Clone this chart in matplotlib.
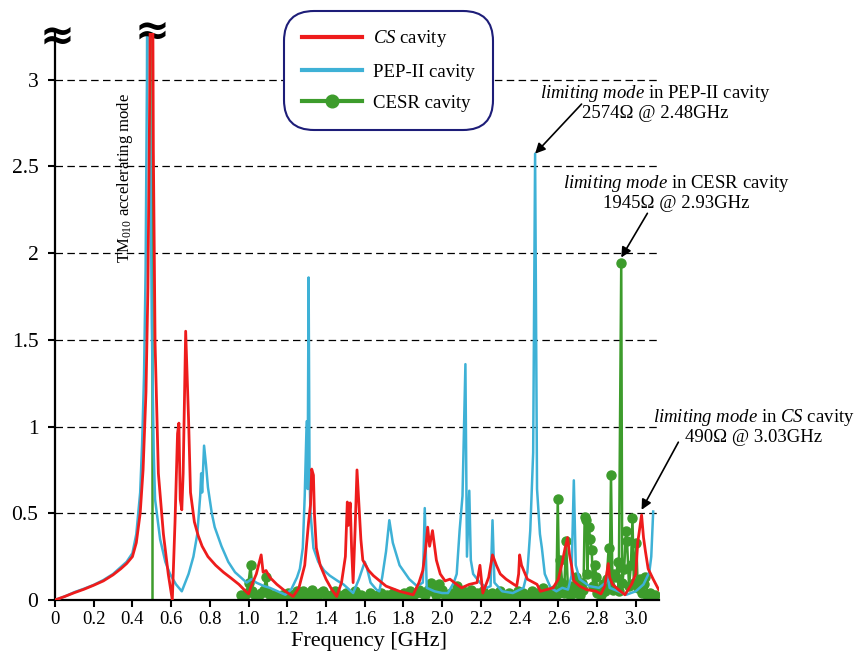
import matplotlib
matplotlib.use('Agg')
import matplotlib.pyplot as plt
import matplotlib.transforms as mtransforms

plt.rcParams['font.family'] = ['Liberation Serif', 'DejaVu Serif']
plt.rcParams['mathtext.fontset'] = 'custom'
plt.rcParams['mathtext.rm'] = 'Liberation Serif'
plt.rcParams['mathtext.it'] = 'Liberation Serif:italic'

# impedance spectra, kOhm vs GHz (main peak is clipped)
cs_freq = [0.0, 0.05, 0.1, 0.15, 0.2, 0.25, 0.3, 0.34, 0.37, 0.4, 0.42, 0.44, 0.455, 0.47,
           0.48, 0.49, 0.50, 0.508, 0.517, 0.534, 0.56, 0.585, 0.606, 0.62, 0.633, 0.64,
           0.647, 0.655, 0.662, 0.675, 0.69, 0.70, 0.72, 0.74, 0.76, 0.79, 0.83, 0.87,
           0.905, 0.95, 0.985, 1.0, 1.01, 1.04, 1.065, 1.075, 1.09, 1.11, 1.146, 1.19,
           1.23, 1.26, 1.29, 1.31, 1.32, 1.326, 1.335, 1.34, 1.35, 1.37, 1.40, 1.43,
           1.455, 1.48, 1.50, 1.51, 1.515, 1.525, 1.532, 1.54, 1.55, 1.56, 1.57, 1.58,
           1.59, 1.62, 1.645, 1.71, 1.78, 1.85, 1.88, 1.90, 1.915, 1.925, 1.935, 1.95,
           1.97, 1.99, 2.015, 2.04, 2.075, 2.10, 2.14, 2.18, 2.195, 2.21, 2.24, 2.26,
           2.28, 2.30, 2.33, 2.37, 2.385, 2.395, 2.40, 2.41, 2.44, 2.49, 2.507, 2.54,
           2.573, 2.60, 2.617, 2.635, 2.648, 2.658, 2.668, 2.68, 2.71, 2.745, 2.795,
           2.82, 2.84, 2.85, 2.858, 2.865, 2.88, 2.91, 2.944, 2.978, 3.0, 3.01, 3.03,
           3.04, 3.05, 3.064, 3.09, 3.118]
cs_z = [0.0, 0.02, 0.042, 0.062, 0.085, 0.11, 0.145, 0.18, 0.21, 0.25, 0.33, 0.5, 0.75, 1.2,
        1.8, 3.0, 5.0, 2.6, 1.48, 0.73, 0.38, 0.15, 0.0, 0.45, 0.96, 1.02,
        0.58, 0.52, 0.73, 1.55, 1.04, 0.62, 0.45, 0.37, 0.31, 0.25, 0.2, 0.16,
        0.13, 0.09, 0.05, 0.035, 0.07, 0.15, 0.26, 0.16, 0.17, 0.13, 0.09, 0.05,
        0.02, 0.07, 0.2, 0.45, 0.55, 0.755, 0.72, 0.5, 0.3, 0.2, 0.12, 0.06,
        0.02, 0.1, 0.25, 0.565, 0.43, 0.56, 0.3, 0.1, 0.4, 0.75, 0.55, 0.35,
        0.23, 0.17, 0.14, 0.08, 0.05, 0.03, 0.1, 0.17, 0.3, 0.42, 0.31, 0.4,
        0.23, 0.15, 0.11, 0.12, 0.09, 0.07, 0.09, 0.1, 0.2, 0.04, 0.13, 0.26,
        0.2, 0.15, 0.12, 0.09, 0.08, 0.15, 0.26, 0.2, 0.12, 0.09, 0.05, 0.06,
        0.07, 0.12, 0.2, 0.3, 0.36, 0.26, 0.2, 0.11, 0.08, 0.06, 0.05,
        0.035, 0.08, 0.15, 0.21, 0.13, 0.09, 0.06, 0.03, 0.09, 0.15, 0.33, 0.49,
        0.36, 0.28, 0.18, 0.12, 0.06]

pep_freq = [0.0, 0.05, 0.1, 0.15, 0.2, 0.25, 0.3, 0.34, 0.37, 0.4, 0.42, 0.44, 0.45, 0.46,
            0.468, 0.475, 0.48, 0.49, 0.50, 0.51, 0.517, 0.543, 0.57, 0.594, 0.625, 0.655,
            0.69, 0.715, 0.735, 0.75, 0.755, 0.76, 0.77, 0.78, 0.79, 0.81, 0.825, 0.86,
            0.895, 0.93, 0.96, 0.99, 1.015, 1.04, 1.08, 1.11, 1.15, 1.19, 1.22, 1.25,
            1.265, 1.28, 1.29, 1.30, 1.305, 1.31, 1.315, 1.32, 1.335, 1.36, 1.39, 1.42,
            1.46, 1.49, 1.52, 1.54, 1.57, 1.60, 1.61, 1.63, 1.66, 1.675, 1.69, 1.71,
            1.727, 1.745, 1.78, 1.83, 1.87, 1.90, 1.91, 1.92, 1.96, 2.0, 2.03, 2.06,
            2.075, 2.09, 2.105, 2.12, 2.128, 2.14, 2.148, 2.16, 2.195, 2.23, 2.25, 2.26,
            2.27, 2.31, 2.365, 2.42, 2.44, 2.455, 2.47, 2.48, 2.49, 2.505, 2.515, 2.53,
            2.56, 2.59, 2.62, 2.65, 2.668, 2.68, 2.69, 2.71, 2.76, 2.81, 2.845, 2.853,
            2.865, 2.91, 2.95, 3.0, 3.04, 3.07, 3.08, 3.09]
pep_z = [0.0, 0.02, 0.045, 0.065, 0.087, 0.115, 0.15, 0.19, 0.22, 0.27, 0.38, 0.62, 0.9, 1.3,
         1.9, 3.0, 5.0, 3.0, 1.6, 0.85, 0.58, 0.35, 0.22, 0.15, 0.09, 0.05,
         0.15, 0.25, 0.38, 0.6, 0.73, 0.62, 0.89, 0.78, 0.65, 0.5, 0.42, 0.31,
         0.22, 0.16, 0.13, 0.1, 0.12, 0.1, 0.08, 0.07, 0.05, 0.03, 0.06, 0.13,
         0.18, 0.3, 0.6, 1.03, 0.64, 1.86, 0.7, 0.5, 0.3, 0.22, 0.17, 0.14,
         0.11, 0.09, 0.06, 0.04, 0.12, 0.22, 0.19, 0.1, 0.06, 0.05, 0.13, 0.28,
         0.46, 0.33, 0.2, 0.12, 0.08, 0.1, 0.53, 0.07, 0.05, 0.04, 0.04, 0.1,
         0.15, 0.4, 0.6, 1.36, 0.25, 0.63, 0.23, 0.15, 0.1, 0.07, 0.08, 0.46,
         0.1, 0.05, 0.04, 0.07, 0.16, 0.4, 0.85, 2.574, 0.64, 0.38, 0.3, 0.15,
         0.07, 0.05, 0.07, 0.06, 0.14, 0.69, 0.2, 0.12, 0.08, 0.07, 0.1, 0.15,
         0.07, 0.05, 0.03, 0.05, 0.09, 0.16, 0.25, 0.51]

cesr_freq = [0.96, 0.975, 0.99, 1.00, 1.01, 1.02, 1.035, 1.05, 1.065, 1.08, 1.09, 1.10,
             1.115, 1.13, 1.145, 1.16, 1.175, 1.19, 1.205, 1.22, 1.235, 1.25,
             1.265, 1.28, 1.295, 1.31, 1.325, 1.34, 1.355, 1.37, 1.385, 1.40, 1.415, 1.43,
             1.445, 1.46, 1.475, 1.49, 1.505, 1.52, 1.535, 1.55, 1.565, 1.58, 1.595, 1.61,
             1.625, 1.64, 1.655, 1.67, 1.685, 1.70, 1.715, 1.73, 1.745, 1.76, 1.775, 1.79,
             1.805, 1.82, 1.835, 1.85, 1.865, 1.88,
             1.895, 1.91, 1.925, 1.94, 1.955, 1.97, 1.985, 2.00, 2.015, 2.03, 2.045, 2.06,
             2.075, 2.09, 2.105, 2.12, 2.135, 2.15, 2.165, 2.18, 2.195, 2.21, 2.225, 2.24,
             2.255, 2.27, 2.285, 2.30, 2.315, 2.33, 2.345, 2.36, 2.375, 2.39, 2.405, 2.42,
             2.435, 2.45, 2.465, 2.48, 2.495,
             2.51, 2.52, 2.535, 2.55, 2.565, 2.58, 2.59, 2.597, 2.605, 2.61, 2.62, 2.63,
             2.64, 2.65, 2.66, 2.67, 2.68, 2.69, 2.70, 2.71, 2.72, 2.73, 2.736, 2.745,
             2.75, 2.757, 2.765, 2.772, 2.78, 2.79, 2.795, 2.80, 2.81, 2.82, 2.83, 2.84,
             2.85, 2.86, 2.865, 2.872, 2.88, 2.89, 2.90, 2.906, 2.912, 2.925, 2.93, 2.94,
             2.95, 2.955, 2.965, 2.975, 2.983, 2.99, 3.003, 3.01, 3.02, 3.03, 3.04, 3.05,
             3.06, 3.075, 3.09, 3.10]
cesr_z = [0.03, 0.02, 0.04, 0.10, 0.20, 0.05, 0.03, 0.02, 0.04, 0.06, 0.13, 0.04,
          0.02, 0.03, 0.02, 0.01, 0.03, 0.02, 0.04, 0.03, 0.02, 0.05,
          0.03, 0.05, 0.02, 0.04, 0.06, 0.03, 0.02, 0.04, 0.05, 0.03, 0.02, 0.03,
          0.05, 0.02, 0.01, 0.03, 0.04, 0.02, 0.03, 0.05, 0.02, 0.03, 0.01, 0.02,
          0.04, 0.03, 0.02, 0.03, 0.04, 0.02, 0.03, 0.02, 0.04, 0.03, 0.02, 0.03,
          0.04, 0.02, 0.05, 0.03, 0.04, 0.06,
          0.04, 0.03, 0.06, 0.10, 0.05, 0.03, 0.09, 0.06, 0.03, 0.02, 0.04, 0.03,
          0.08, 0.03, 0.05, 0.02, 0.03, 0.06, 0.02, 0.04, 0.03, 0.05, 0.02, 0.03,
          0.04, 0.02, 0.03, 0.05, 0.03, 0.02, 0.04, 0.03, 0.02, 0.05, 0.03, 0.04,
          0.02, 0.03, 0.05, 0.03, 0.04,
          0.03, 0.07, 0.02, 0.04, 0.03, 0.06, 0.03, 0.58, 0.04, 0.23, 0.10, 0.04,
          0.34, 0.05, 0.03, 0.08, 0.04, 0.13, 0.05, 0.03, 0.10, 0.06, 0.48, 0.46,
          0.15, 0.42, 0.35, 0.29, 0.08, 0.20, 0.13, 0.04, 0.06, 0.03, 0.09, 0.05,
          0.12, 0.30, 0.08, 0.72, 0.06, 0.15, 0.13, 0.22, 0.05, 1.945, 0.10, 0.18,
          0.40, 0.34, 0.08, 0.20, 0.47, 0.10, 0.33, 0.07, 0.12, 0.04, 0.09, 0.13,
          0.03, 0.04, 0.02, 0.03]

accel_freq = 0.5   # TM010 accelerating mode
x_ticks = [0, 0.2, 0.4, 0.6, 0.8, 1.0, 1.2, 1.4, 1.6, 1.8, 2.0, 2.2, 2.4, 2.6, 2.8, 3.0]
x_labels = ['0', '0.2', '0.4', '0.6', '0.8', '1.0', '1.2', '1.4', '1.6', '1.8', '2.0',
            '2.2', '2.4', '2.6', '2.8', '3.0']
y_ticks = [0, 0.5, 1, 1.5, 2, 2.5, 3]
y_labels = ['0', '0.5', '1', '1.5', '2', '2.5', '3']

red = '#ee1c1c'
blue = '#3eb1d6'
green = '#3d9c2c'

fig = plt.figure(figsize=(8.62, 6.53), dpi=100)
ax = fig.add_axes([0.0638, 0.0812, 0.7007, 0.8683])

ax.vlines(accel_freq, 0, 10, color=green, lw=1.8, zorder=2)
ax.plot(cesr_freq, cesr_z, color=green, lw=1.8, marker='o', ms=6.5, zorder=2,
        label='CESR cavity')
ax.plot(pep_freq, pep_z, color=blue, lw=1.8, zorder=3, label='PEP-II cavity')
ax.plot(cs_freq, cs_z, color=red, lw=2.0, zorder=4, label=r'$\it{CS}$ cavity')

ax.set_xlim(0, 3.12)
ax.set_ylim(0, 3.27)
ax.set_xticks(x_ticks)
ax.set_xticklabels(x_labels)
ax.set_yticks(y_ticks)
ax.set_yticklabels(y_labels)
ax.tick_params(axis='x', labelsize=13.5, direction='out', length=5, width=1.5, pad=3)
ax.tick_params(axis='y', labelsize=15.5, direction='out', length=5, width=1.5, pad=7)
for s in ['top', 'right']:
    ax.spines[s].set_visible(False)
for s in ['left', 'bottom']:
    ax.spines[s].set_linewidth(1.6)
ax.yaxis.grid(True, color='black', lw=0.9, linestyle=(0, (6, 3.5)))
ax.set_axisbelow(True)

ax.set_xlabel('Frequency [GHz]', fontsize=16)
ax.xaxis.set_label_coords(0.52, -0.057)

# axis break marks
brk = mtransforms.blended_transform_factory(ax.transData, ax.transAxes)
ax.text(0.01, 0.993, '\u2248', transform=brk, ha='center', va='center', fontsize=30,
        fontweight='bold', family='DejaVu Sans', clip_on=False)
ax.text(accel_freq, 1.002, '\u2248', transform=brk, ha='center', va='center', fontsize=30,
        fontweight='bold', family='DejaVu Sans', clip_on=False)

ax.text(0.362, 2.435, r'TM$_{010}$ accelerating mode', rotation=90, ha='center',
        va='center', fontsize=12)

# limiting modes
i_pep = pep_z.index(max(pep_z[100:]))
i_cesr = cesr_z.index(max(cesr_z))
i_cs = cs_z.index(max(cs_z[120:]))
arrow = dict(arrowstyle='-|>', color='black', lw=1.2, mutation_scale=15, shrinkA=0, shrinkB=0)

ax.text(3.10, 2.87, '$\\it{limiting\\ mode}$ in PEP-II cavity\n2574\u03a9 @ 2.48GHz',
        ha='center', va='center', fontsize=13.5, linespacing=1.1)
ax.annotate('', xy=(pep_freq[i_pep], pep_z[i_pep]), xytext=(2.72, 2.86), arrowprops=arrow)

ax.text(3.21, 2.35, '$\\it{limiting\\ mode}$ in CESR cavity\n1945\u03a9 @ 2.93GHz',
        ha='center', va='center', fontsize=13.5, linespacing=1.1)
ax.annotate('', xy=(cesr_freq[i_cesr], cesr_z[i_cesr] + 0.03), xytext=(3.06, 2.23),
            arrowprops=arrow, annotation_clip=False)

ax.text(3.61, 1.0, '$\\it{limiting\\ mode}$ in $\\it{CS}$ cavity\n490\u03a9 @ 3.03GHz',
        ha='center', va='center', fontsize=13.5, linespacing=1.1)
ax.annotate('', xy=(cs_freq[i_cs], cs_z[i_cs] + 0.03), xytext=(3.22, 0.91),
            arrowprops=arrow, annotation_clip=False)

h, l = ax.get_legend_handles_labels()
leg = fig.legend(h[::-1], l[::-1], loc='center', bbox_to_anchor=(0.4507, 0.8928),
                 fontsize=13.5, handlelength=3.2, handletextpad=0.6, labelspacing=0.75,
                 borderpad=0.95, framealpha=1, fancybox=True, markerscale=1.4)
for line in leg.get_lines():
    line.set_linewidth(3.0)
frame = leg.get_frame()
frame.set_edgecolor('#1d1d78')
frame.set_linewidth(1.5)
frame.set_boxstyle('round', pad=0, rounding_size=1.6)

fig.savefig('out.png', dpi=100)
